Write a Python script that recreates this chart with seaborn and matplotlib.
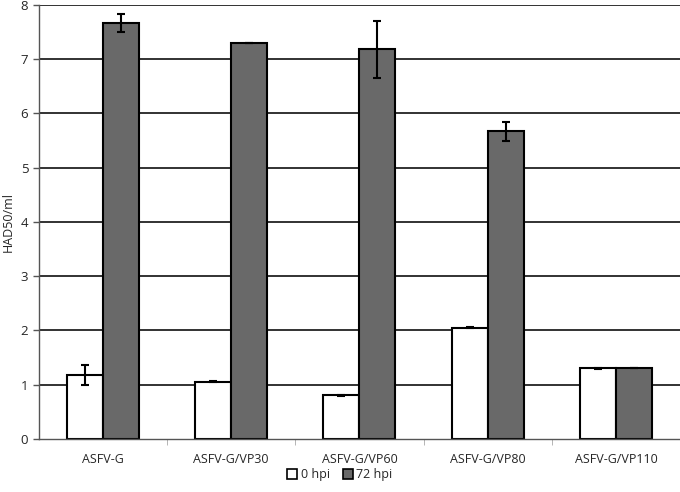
import numpy as np
import pandas as pd
import seaborn as sns
import matplotlib as mpl
mpl.use('Agg')
import matplotlib.pyplot as plt

# values
strains = ['ASFV-G', 'ASFV-G/VP30', 'ASFV-G/VP60', 'ASFV-G/VP80', 'ASFV-G/VP110']
hpi0 = [1.18, 1.05, 0.80, 2.05, 1.30]
hpi0_err = [0.18, 0.01, 0.01, 0.01, 0.01]
hpi72 = [7.67, 7.30, 7.18, 5.67, 1.30]
hpi72_err = [0.17, 0.0, 0.53, 0.18, 0.0]
series = ['0 hpi', '72 hpi']

sns.set_style('white')
plt.rcParams['font.family'] = ['Open Sans', 'DejaVu Sans']

df = pd.DataFrame({
    'strain': strains * 2,
    'val': hpi0 + hpi72,
    'err': hpi0_err + hpi72_err,
    'series': [series[0]] * 5 + [series[1]] * 5,
})

fig = plt.figure(figsize=(6.8, 4.92), dpi=100)
ax = fig.add_axes([0.057, 0.108, 0.943, 0.882])

# gridlines behind bars
for y in range(1, 9):
    ax.axhline(y, color='#222222', lw=1.3, zorder=0)

sns.barplot(data=df, x='strain', y='val', hue='series', order=strains, hue_order=series,
            palette=['white', '#696969'], edgecolor='black', linewidth=1.5,
            width=0.56, errorbar=None, ax=ax, zorder=2)

# error bars from the bar patches
for cont, s in zip(ax.containers, series):
    sub = df[df.series == s].set_index('strain').loc[strains]
    xs = [p.get_x() + p.get_width() / 2 for p in cont.patches]
    ax.errorbar(xs, sub['val'].values, yerr=sub['err'].values, fmt='none',
                ecolor='black', elinewidth=1.5, capsize=3, capthick=1.5, zorder=3)

ax.set_ylim(0, 8)
ax.set_xlim(-0.5, 4.5)
ax.set_yticks(range(0, 9))
ax.set_xlabel('')
ax.set_ylabel('HAD50/ml', fontsize=9)
ax.tick_params(axis='y', labelsize=9.5, length=4, width=1, color='#555555', direction='out', left=True)
ax.tick_params(axis='x', labelsize=9, length=0, pad=10)
ax.set_xticks(np.arange(0.5, 4.5), minor=True)
ax.tick_params(axis='x', which='minor', length=4, color='#aaaaaa', bottom=True)

for side in ['top', 'right']:
    ax.spines[side].set_visible(False)
ax.spines['left'].set_color('#555555')
ax.spines['bottom'].set_color('#555555')
ax.spines['left'].set_linewidth(1)
ax.spines['bottom'].set_linewidth(1)

ax.legend_.remove()
handles = [mpl.patches.Patch(facecolor=c, edgecolor='black', lw=1.2) for c in ['white', '#696969']]
fig.legend(handles, series, loc='center', bbox_to_anchor=(0.5, 0.035), ncol=2, frameon=False,
           fontsize=9, handlelength=0.8, handleheight=0.8, handletextpad=0.3, columnspacing=1.0)

fig.savefig('out.png', dpi=100)
